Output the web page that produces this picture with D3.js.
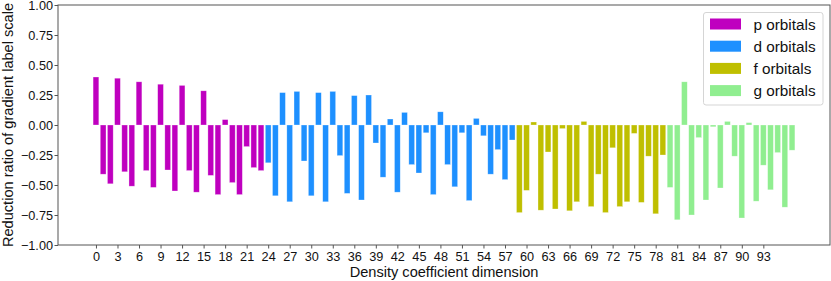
<!DOCTYPE html>
<html>
<head>
<meta charset="utf-8">
<script src="https://cdn.jsdelivr.net/npm/d3@7"></script>
<style>
	body { margin: 0; background: #fff; }
	svg { display: block; font-family: "Liberation Sans", Arial, sans-serif; }
</style>
</head>
<body>
<div id="chart"></div>
<script>
// values, one array per orbital group
var pVals = [0.40, -0.41, -0.49, 0.39, -0.39, -0.51, 0.36, -0.38, -0.52, 0.34, -0.375, -0.55,
	0.33, -0.38, -0.56, 0.285, -0.42, -0.58, 0.045, -0.48, -0.58, -0.18, -0.355, -0.38];
var dVals = [-0.315, -0.59, 0.27, -0.64, 0.28, -0.30, -0.59, 0.27, -0.64, 0.28, -0.255, -0.57,
	0.245, -0.625, 0.25, -0.15, -0.435, 0.05, -0.56, 0.105, -0.33, -0.40, -0.065, -0.58,
	0.11, -0.33, -0.515, -0.065, -0.63, 0.055, -0.09, -0.41, -0.205, -0.455, -0.125];
var fVals = [-0.73, -0.545, 0.025, -0.71, -0.225, -0.70, -0.03, -0.715, -0.64, 0.03, -0.68,
	-0.41, -0.73, -0.19, -0.68, -0.64, -0.07, -0.645, -0.26, -0.74, -0.25];
var gVals = [-0.52, -0.79, 0.36, -0.75, -0.105, -0.625, -0.015, -0.525, 0.03, -0.26, -0.775,
	0.02, -0.635, -0.335, -0.54, -0.23, -0.685, -0.21];

var groupNames = ['p orbitals', 'd orbitals', 'f orbitals', 'g orbitals'];
var groupColors = ['#bf00bf', '#1e90ff', '#bfbf00', '#90ee90'];
var xTicks = d3.range(0, 94, 3);
var yTicks = [-1, -0.75, -0.5, -0.25, 0, 0.25, 0.5, 0.75, 1];

// flatten into [index, value, group]
var bars = [];
[pVals, dVals, fVals, gVals].forEach(function (arr, g) {
	arr.forEach(function (v) { bars.push([bars.length, v, g]); });
});

var w = 831, h = 281;
var axColor = '#555';
const svg = d3.select('#chart')
	.append('svg')
	.attr('width', w)
	.attr('height', h);

// matplotlib default 5% margins around -0.4 .. n-0.6
var xMin = -0.4, xMax = bars.length - 0.6;
var pad = (xMax - xMin) * 0.05;
var xScale = d3.scaleLinear()
	.domain([xMin - pad, xMax + pad])
	.range([58, 830]);
var yScale = d3.scaleLinear()
	.domain([-1, 1])
	.range([245, 5]);
var bw = xScale(0.8) - xScale(0);

svg.append('g').selectAll('rect').data(bars).enter()
	.append('rect')
	.attr('x', function (d) { return xScale(d[0] - 0.4); })
	.attr('width', bw)
	.attr('y', function (d) { return yScale(Math.max(d[1], 0)); })
	.attr('height', function (d) { return Math.abs(yScale(d[1]) - yScale(0)); })
	.attr('fill', function (d) { return groupColors[d[2]]; })
	.attr('stroke', '#fff')
	.attr('stroke-opacity', 0.5)
	.attr('stroke-width', 0.6);

// axes
var xAxis = svg.append('g')
	.attr('transform', 'translate(0,245)')
	.call(d3.axisBottom(xScale).tickValues(xTicks).tickFormat(d3.format('d'))
		.tickSize(3.5).tickPadding(3.2));
var yAxis = svg.append('g')
	.attr('transform', 'translate(58,0)')
	.call(d3.axisLeft(yScale).tickValues(yTicks).tickFormat(d3.format('.2f'))
		.tickSize(3.5).tickPadding(1.5));
[xAxis, yAxis].forEach(function (a) {
	a.select('.domain').remove();
	a.selectAll('line').attr('stroke', axColor);
	a.selectAll('text').attr('fill', '#111').style('font-size', '12.7px')
		.style('font-family', '"Liberation Sans", Arial, sans-serif');
});

// frame
svg.append('rect')
	.attr('x', 58).attr('y', 5)
	.attr('width', 830 - 58).attr('height', 240)
	.attr('fill', 'none')
	.attr('stroke', axColor)
	.attr('stroke-width', 1);

svg.append('text')
	.attr('x', (58 + 830) / 2).attr('y', 277)
	.attr('text-anchor', 'middle')
	.style('font-size', '14.6px')
	.attr('fill', '#111')
	.text('Density coefficient dimension');
svg.append('text')
	.attr('transform', 'translate(12.5,125) rotate(-90)')
	.attr('text-anchor', 'middle')
	.style('font-size', '14.6px')
	.attr('fill', '#111')
	.text('Reduction ratio of gradient label scale');

// legend
var legend = svg.append('g');
legend.append('rect')
	.attr('x', 703.5).attr('y', 12.5)
	.attr('width', 119.5).attr('height', 92.5)
	.attr('rx', 2.5)
	.attr('fill', '#fff').attr('fill-opacity', 0.8)
	.attr('stroke', '#d5d5d5');
var rows = legend.selectAll('g.item').data(groupNames).enter()
	.append('g').attr('class', 'item')
	.attr('transform', function (d, i) { return 'translate(0,' + (24 + i * 22.2) + ')'; });
rows.append('rect')
	.attr('x', 710).attr('y', -5.5)
	.attr('width', 31).attr('height', 11)
	.attr('fill', function (d, i) { return groupColors[i]; });
rows.append('text')
	.attr('x', 753.5).attr('dy', '0.36em')
	.style('font-size', '15.3px')
	.attr('fill', '#111')
	.text(function (d) { return d; });
</script>
</body>
</html>
